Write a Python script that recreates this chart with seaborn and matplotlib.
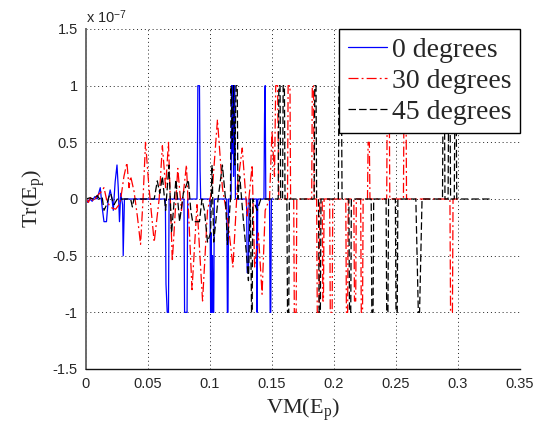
import pandas as pd
import numpy as np
import matplotlib
matplotlib.use("Agg")
import matplotlib.pyplot as plt
import seaborn as sns

# values, y in units of 1e-7
blue_x = [0.000, 0.001, 0.003, 0.005, 0.007, 0.009, 0.0115, 0.013, 0.0145, 0.0165, 0.018,
          0.0195, 0.021, 0.022, 0.0235, 0.025, 0.026, 0.027, 0.028, 0.0295, 0.030, 0.031,
          0.064, 0.0645, 0.0655, 0.0665, 0.067,
          0.079, 0.0795, 0.0815, 0.082,
          0.0895, 0.0898, 0.0902, 0.0915, 0.092, 0.0925,
          0.100, 0.1005, 0.101, 0.1015, 0.102, 0.1025, 0.103, 0.1035,
          0.1135, 0.114, 0.1145, 0.115,
          0.117, 0.1175, 0.118, 0.1185, 0.119, 0.1195, 0.120, 0.1205,
          0.1295, 0.130, 0.131, 0.1315,
          0.1375, 0.138, 0.1385,
          0.1435, 0.144, 0.1445, 0.145,
          0.148, 0.1485, 0.149, 0.1495, 0.151]
blue_y = [0.0, -0.03, 0.0, -0.02, 0.02, 0.0, 0.1, -0.07, -0.2, -0.2, 0.0,
          0.08, 0.0, -0.1, 0.15, 0.3, 0.1, -0.2, 0.05, -0.05, -0.5, 0.0,
          0.0, -0.75, -1.0, -1.0, 0.0,
          0.0, -1.0, -1.0, 0.0,
          0.0, 0.25, 1.0, 1.0, 0.25, 0.0,
          0.0, -1.0, -0.3, -1.0, -0.5, -1.0, -1.0, 0.0,
          0.0, -1.0, -1.0, 0.0,
          0.0, 1.0, 0.4, 1.0, 0.2, 1.0, 1.0, 0.0,
          0.0, -0.65, -0.65, 0.0,
          0.0, -1.0, 0.0,
          0.0, 0.75, 1.0, 0.0,
          0.0, -1.0, -1.0, 0.0, 0.0]

red_x = [0.000, 0.002, 0.004, 0.006, 0.0092, 0.012, 0.0145, 0.0165, 0.0185, 0.021,
         0.0239, 0.0266, 0.028, 0.0306, 0.033, 0.0347, 0.036, 0.0387, 0.0414, 0.044,
         0.046, 0.048, 0.0508, 0.055, 0.059, 0.0616, 0.0642, 0.0665, 0.0696, 0.0715,
         0.074, 0.077, 0.081, 0.0855, 0.0895, 0.094, 0.098, 0.102, 0.106, 0.110,
         0.1145, 0.1185, 0.122, 0.126, 0.130, 0.134, 0.136, 0.139, 0.142, 0.1445,
         0.148, 0.150, 0.152, 0.153, 0.1545, 0.1555,
         0.1625, 0.163, 0.1645, 0.165,
         0.1675, 0.168, 0.1695, 0.170,
         0.182, 0.1825, 0.1835, 0.184,
         0.186, 0.1865, 0.188, 0.1885,
         0.1905, 0.191, 0.1915, 0.192,
         0.1965, 0.197, 0.1985, 0.199,
         0.2095, 0.210, 0.211, 0.2115,
         0.216, 0.2165, 0.2175, 0.218,
         0.2215, 0.222, 0.223, 0.2235,
         0.227, 0.2275, 0.2285, 0.229,
         0.2425, 0.243, 0.2445, 0.245,
         0.256, 0.2565, 0.258, 0.2585,
         0.2935, 0.294, 0.2955, 0.296,
         0.301]
red_y = [0.0, -0.03, 0.02, -0.02, 0.03, 0.06, 0.1, 0.0, -0.05, -0.08,
         -0.09, -0.05, 0.0, 0.2, 0.32, 0.1, 0.2, 0.07, -0.15, -0.4,
         0.0, 0.5, 0.1, -0.38, 0.0, 0.47, 0.1, 0.5, -0.55, -0.2,
         0.27, -0.1, 0.3, -0.8, -0.05, -0.9, -0.1, 0.1, 0.7, 0.1,
         -0.2, -0.6, 0.1, 0.45, -0.15, 0.3, -0.6, -0.3, -0.84, -0.1,
         0.0, 0.6, 0.2, 1.0, 1.0, 0.0,
         0.0, 1.0, 1.0, 0.0,
         0.0, -1.0, -1.0, 0.0,
         0.0, 1.0, 1.0, 0.0,
         0.0, -1.0, -1.0, 0.0,
         0.0, -0.9, -0.9, 0.0,
         0.0, -1.0, -1.0, 0.0,
         0.0, -1.0, -1.0, 0.0,
         0.0, -0.9, -0.9, 0.0,
         0.0, -1.0, -1.0, 0.0,
         0.0, 0.5, 0.5, 0.0,
         0.0, 1.0, 1.0, 0.0,
         0.0, 1.0, 1.0, 0.0,
         0.0, -1.0, -1.0, 0.0,
         0.0]

black_x = [0.000, 0.003, 0.006, 0.009, 0.011, 0.013, 0.0145, 0.0167, 0.0185, 0.0199,
           0.0215, 0.0226, 0.0253, 0.036, 0.0374, 0.0387, 0.055, 0.0575, 0.0595, 0.0616,
           0.0642, 0.0669, 0.069, 0.0725, 0.0755, 0.0785, 0.0825, 0.0845, 0.086, 0.0915,
           0.0935, 0.0955, 0.098, 0.1005, 0.1016, 0.103, 0.1065, 0.110, 0.1125, 0.114,
           0.1165, 0.117, 0.118, 0.119, 0.120, 0.121, 0.122, 0.1225, 0.124, 0.127,
           0.1295, 0.131, 0.1325, 0.1335, 0.134, 0.1345, 0.138, 0.141,
           0.155, 0.1555, 0.1565, 0.157,
           0.1585, 0.159, 0.160, 0.1605,
           0.162, 0.1625, 0.1635, 0.164,
           0.184, 0.1845, 0.1855, 0.186,
           0.1875, 0.188, 0.189, 0.1895,
           0.2035, 0.204, 0.206, 0.2065,
           0.212, 0.2125, 0.2135, 0.214,
           0.230, 0.2305, 0.2315, 0.232,
           0.242, 0.2425, 0.2435, 0.244,
           0.2495, 0.250, 0.251, 0.2515,
           0.266, 0.268, 0.269, 0.271,
           0.2875, 0.288, 0.289, 0.2895,
           0.292, 0.2925, 0.2935, 0.294,
           0.297, 0.2975, 0.2985, 0.299,
           0.326]
black_y = [0.0, 0.01, 0.0, 0.03, 0.0, 0.02, -0.1, -0.05, 0.02, 0.05,
           -0.02, -0.05, 0.0, 0.0, -0.07, 0.0, 0.0, 0.16, 0.05, 0.2,
           -0.1, 0.3, -0.3, 0.17, -0.2, 0.05, 0.17, -0.1, -0.2, -0.2,
           0.0, -0.1, -0.38, -0.3, 0.3, -0.38, 0.0, 0.3, 0.0, -0.4,
           0.0, 1.0, 0.5, 1.0, 0.3, 1.0, 1.0, 0.0, 0.2, -0.2,
           -0.5, -0.72, 0.0, -1.0, -1.0, 0.0, -0.1, 0.0,
           0.0, 1.0, 1.0, 0.0,
           0.0, 1.0, 1.0, 0.0,
           0.0, -1.0, -1.0, 0.0,
           0.0, 1.0, 1.0, 0.0,
           0.0, -1.0, -1.0, 0.0,
           0.0, 1.0, 1.0, 0.0,
           0.0, -1.0, -1.0, 0.0,
           0.0, -1.0, -1.0, 0.0,
           0.0, -1.0, -1.0, 0.0,
           0.0, -1.0, -1.0, 0.0,
           0.0, -1.0, -1.0, 0.0,
           0.0, 1.0, 1.0, 0.0,
           0.0, 1.0, 1.0, 0.0,
           0.0, 0.85, 0.85, 0.0,
           0.0]

series_labels = ["0 degrees", "30 degrees", "45 degrees"]
x_ticks = [0, 0.05, 0.1, 0.15, 0.2, 0.25, 0.3, 0.35]
x_tick_labels = ["0", "0.05", "0.1", "0.15", "0.2", "0.25", "0.3", "0.35"]
y_ticks = [-1.5, -1, -0.5, 0, 0.5, 1, 1.5]
y_tick_labels = ["-1.5", "-1", "-0.5", "0", "0.5", "1", "1.5"]

sns.set_style("white")
plt.rcParams["font.family"] = ["Liberation Sans", "DejaVu Sans"]
plt.rcParams["mathtext.fontset"] = "custom"
plt.rcParams["mathtext.rm"] = "Liberation Serif"
plt.rcParams["mathtext.it"] = "Liberation Serif:italic"
plt.rcParams["mathtext.sf"] = "Liberation Sans"

fig = plt.figure(figsize=(5.34, 4.28), dpi=100)
ax = fig.add_axes([86 / 534, 1 - 369 / 428, (520 - 86) / 534, (369 - 29) / 428])

styles = [
    (blue_x, blue_y, "#0000ff", "-"),
    (red_x, red_y, "#ff0000", (0, (8, 2.5, 1.5, 2.5))),
    (black_x, black_y, "#000000", (0, (6, 2.5))),
]
for (xs, ys, col, ls), lab in zip(styles, series_labels):
    df = pd.DataFrame({"x": xs, "y": ys})
    sns.lineplot(data=df, x="x", y="y", ax=ax, color=col, linestyle=ls,
                 linewidth=0.9, sort=False, estimator=None, label=lab)

ax.set_xlim(0, 0.35)
ax.set_ylim(-1.5, 1.5)
ax.set_xticks(x_ticks)
ax.set_xticklabels(x_tick_labels)
ax.set_yticks(y_ticks)
ax.set_yticklabels(y_tick_labels)
ax.tick_params(direction="in", length=3, width=0.8, labelsize=10.5,
               labelcolor="#262626", color="#333333", pad=6)
ax.grid(True, linestyle=(0, (1, 3)), color="#222222", linewidth=0.7)

for side in ["top", "right"]:
    ax.spines[side].set_visible(False)
ax.spines["left"].set_color("#6a6a6a")
ax.spines["left"].set_linewidth(1.4)
ax.spines["bottom"].set_color("#111111")
ax.spines["bottom"].set_linewidth(1.0)

serif = ["Liberation Serif", "DejaVu Serif"]
ax.set_xlabel("VM(E$_{\\mathrm{p}}$)", fontsize=16, family=serif, labelpad=4)
ax.set_ylabel("Tr(E$_{\\mathrm{p}}$)", fontsize=16, family=serif, labelpad=4)

fig.text(86 / 534, 1 - 23 / 428, "x 10$^{\\mathsf{-7}}$", fontsize=10.5,
         color="#262626", ha="left", va="baseline")

leg = ax.legend(loc="upper right", borderaxespad=0, frameon=True,
                fancybox=False, edgecolor="black", framealpha=1,
                handlelength=1.4, handletextpad=0.2, labelspacing=0.2,
                borderpad=0.3, prop={"family": serif, "size": 20})
leg.get_frame().set_linewidth(1.0)

fig.savefig("out.png", dpi=100)
